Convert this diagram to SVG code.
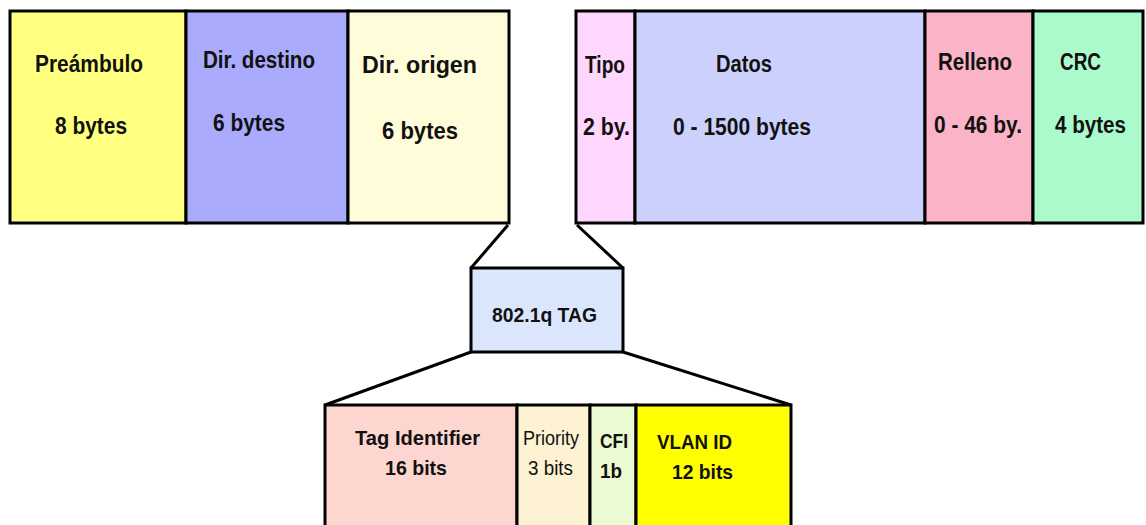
<svg xmlns="http://www.w3.org/2000/svg" width="1146" height="525" viewBox="0 0 1146 525">
<style>
.f{stroke:#000;stroke-width:3}
.t{font-family:"Liberation Sans",Arial,sans-serif;font-weight:bold;font-size:23px;fill:#111}
.s{font-family:"Liberation Sans",Arial,sans-serif;font-weight:bold;font-size:21px;fill:#111}
.r{font-family:"Liberation Sans",Arial,sans-serif;font-size:21px;fill:#111}
.c{fill:none;stroke:#000;stroke-width:3;stroke-linejoin:round}
</style>
<rect width="1146" height="525" fill="#fff"/>
<g id="connectors">
<path class="c" d="M508,225 L471,268"/>
<path class="c" d="M577,225 L623,268"/>
<path class="c" d="M471,352 L325,405"/>
<path class="c" d="M623,352 L791,405"/>
</g>
<g id="preambulo">
<rect class="f" x="10" y="11" width="176" height="212" fill="#ffff80"/>
<text class="t" x="35" y="72" textLength="108" lengthAdjust="spacingAndGlyphs">Preámbulo</text>
<text class="t" x="55" y="134" textLength="72" lengthAdjust="spacingAndGlyphs">8 bytes</text>
</g>
<g id="dir-destino">
<rect class="f" x="186" y="11" width="162" height="212" fill="#aaabfc"/>
<text class="t" x="203" y="68" textLength="112" lengthAdjust="spacingAndGlyphs">Dir. destino</text>
<text class="t" x="213" y="131" textLength="72" lengthAdjust="spacingAndGlyphs">6 bytes</text>
</g>
<g id="dir-origen">
<rect class="f" x="348" y="11" width="161" height="212" fill="#fffcd9"/>
<text class="t" x="362" y="73" textLength="115" lengthAdjust="spacingAndGlyphs">Dir. origen</text>
<text class="t" x="382" y="139" textLength="76" lengthAdjust="spacingAndGlyphs">6 bytes</text>
</g>
<g id="tipo">
<rect class="f" x="576" y="11" width="59" height="212" fill="#ffd6fe"/>
<text class="t" x="585" y="73" textLength="40" lengthAdjust="spacingAndGlyphs">Tipo</text>
<text class="t" x="583" y="135" textLength="47" lengthAdjust="spacingAndGlyphs">2 by.</text>
</g>
<g id="datos">
<rect class="f" x="635" y="11" width="290" height="212" fill="#ccd0fc"/>
<text class="t" x="716" y="72" textLength="56" lengthAdjust="spacingAndGlyphs">Datos</text>
<text class="t" x="673" y="135" textLength="138" lengthAdjust="spacingAndGlyphs">0 - 1500 bytes</text>
</g>
<g id="relleno">
<rect class="f" x="925" y="11" width="108" height="212" fill="#fab3c7"/>
<text class="t" x="938" y="70" textLength="74" lengthAdjust="spacingAndGlyphs">Relleno</text>
<text class="t" x="934" y="133" textLength="88" lengthAdjust="spacingAndGlyphs">0 - 46 by.</text>
</g>
<g id="crc">
<rect class="f" x="1033" y="11" width="110" height="212" fill="#aafacc"/>
<text class="t" x="1060" y="70" textLength="41" lengthAdjust="spacingAndGlyphs">CRC</text>
<text class="t" x="1055" y="133" textLength="71" lengthAdjust="spacingAndGlyphs">4 bytes</text>
</g>
<g id="tag">
<rect class="f" x="471" y="268" width="152" height="84" fill="#dae6fc"/>
<text class="s" x="492" y="322" textLength="105" lengthAdjust="spacingAndGlyphs">802.1q TAG</text>
</g>
<g id="tag-identifier">
<rect class="f" x="325" y="405" width="192" height="130" fill="#fdd6d0"/>
<text class="s" x="355" y="445" textLength="125" lengthAdjust="spacingAndGlyphs">Tag Identifier</text>
<text class="s" x="385" y="475" textLength="62" lengthAdjust="spacingAndGlyphs">16 bits</text>
</g>
<g id="priority">
<rect class="f" x="517" y="405" width="73" height="130" fill="#fdf3d2"/>
<text class="r" x="523" y="445" textLength="56" lengthAdjust="spacingAndGlyphs">Priority</text>
<text class="r" x="528" y="475" textLength="45" lengthAdjust="spacingAndGlyphs">3 bits</text>
</g>
<g id="cfi">
<rect class="f" x="590" y="405" width="46" height="130" fill="#ebfad0"/>
<text class="s" x="600" y="448" textLength="28" lengthAdjust="spacingAndGlyphs">CFI</text>
<text class="s" x="600" y="478" textLength="22" lengthAdjust="spacingAndGlyphs">1b</text>
</g>
<g id="vlan-id">
<rect class="f" x="636" y="405" width="155" height="130" fill="#ffff00"/>
<text class="s" x="657" y="449" textLength="75" lengthAdjust="spacingAndGlyphs">VLAN ID</text>
<text class="s" x="672" y="479" textLength="61" lengthAdjust="spacingAndGlyphs">12 bits</text>
</g>
</svg>
